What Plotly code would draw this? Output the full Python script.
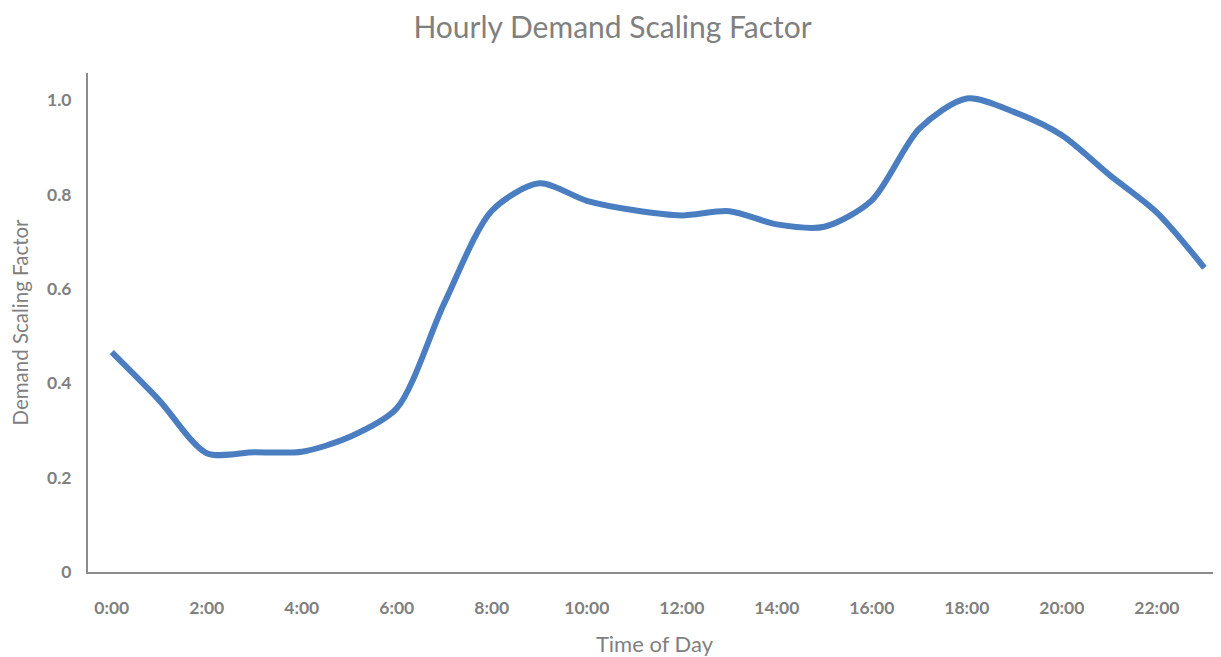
import plotly.graph_objects as go

hours = list(range(24))
hour_labels = [f"{h}:00" for h in hours]
demand_factor = [0.466, 0.364, 0.252, 0.254, 0.255, 0.286, 0.347, 0.570, 0.766,
                 0.824, 0.787, 0.767, 0.756, 0.765, 0.737, 0.732, 0.788, 0.940,
                 1.004, 0.975, 0.926, 0.842, 0.762, 0.645]
tick_hours = hours[::2]
tick_text = hour_labels[::2]
y_ticks = [0, 0.2, 0.4, 0.6, 0.8, 1.0]
y_tick_text = ["0", "0.2", "0.4", "0.6", "0.8", "1.0"]

grey = "#808080"
font_family = "Lato, 'Open Sans', sans-serif"

fig = go.Figure()
fig.add_trace(go.Scatter(
    x=hours, y=demand_factor, mode="lines",
    line=dict(color="#4A7EC1", width=6, shape="spline", smoothing=0.8),
    hoverinfo="x+y", showlegend=False,
))

# page body has an 8px margin, so the figure is sized to fit inside the window
fig.update_layout(
    width=1213, height=649,
    margin=dict(l=80, r=0, t=65, b=85, autoexpand=False),
    paper_bgcolor="white", plot_bgcolor="white",
    title=dict(text="Hourly Demand Scaling Factor", x=0.4984, xanchor="center",
               y=0.97, yanchor="middle",
               font=dict(family=font_family, size=30, color=grey)),
    font=dict(family=font_family, color=grey),
)
fig.update_xaxes(
    range=[-0.5, 23.35], tickmode="array", tickvals=tick_hours, ticktext=tick_text,
    showgrid=False, zeroline=False, showline=True, linecolor="#8c8c8c", linewidth=2,
    ticks="", ticklabelstandoff=19, automargin=False,
    tickfont=dict(family=font_family, size=17.5, color=grey, weight="bold"),
    title=dict(text="Time of Day", standoff=23,
               font=dict(family=font_family, size=22, color=grey)),
)
fig.update_yaxes(
    range=[0, 1.058], tickmode="array", tickvals=y_ticks, ticktext=y_tick_text,
    showgrid=False, zeroline=False, showline=True, linecolor="#8c8c8c", linewidth=2,
    ticks="", ticklabelstandoff=11, automargin=False,
    tickfont=dict(family=font_family, size=17.5, color=grey, weight="bold"),
    title=dict(text="Demand Scaling Factor", standoff=17,
               font=dict(family=font_family, size=20.5, color=grey)),
)

fig.write_html("out.html")
